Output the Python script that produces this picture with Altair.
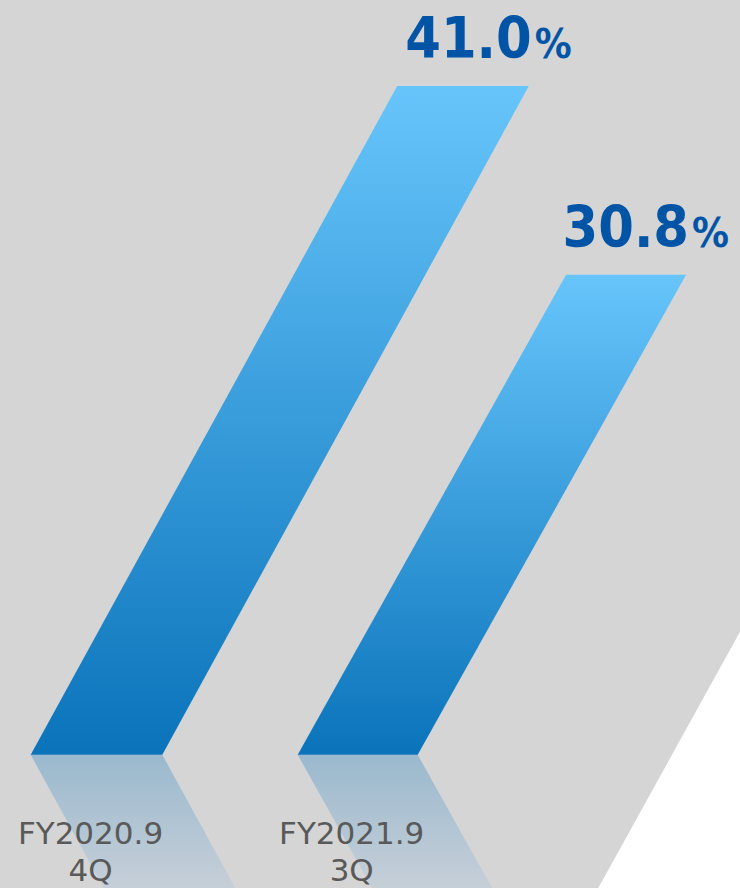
import altair as alt
import pandas as pd

# ---- data ----
categories = ["FY2020.9", "FY2021.9"]
periods = ["4Q", "3Q"]
values = [41.0, 30.8]

# ---- layout (not data) ----
W, H = 740, 888
y_lo, y_hi = -2.35, 45.65        # value-scale domain (bottom, top of the picture)
base_value = 4.85                # where the bars stand
px_per_unit = H / (y_hi - y_lo)  # vertical pixels per value unit
bar_left = [30.7, 297.7]         # x of each bar's foot (left corner)
bar_width = [131.6, 120.0]
slants = [0.548, 0.559]          # horizontal shift per vertical pixel
bg_foot = 598.3                  # x where the grey band meets the bottom
bg_slant = 0.553

BG = "#d5d5d5"
TOP_BLUE = "#67c5fb"
BOTTOM_BLUE = "#0a73ba"
VALUE_BLUE = "#0054a6"
LABEL_GREY = "#595959"


def shift(slant, dv):
    return slant * px_per_unit * dv


bar_rows, refl_rows, lab_rows, val_rows = [], [], [], []
for c, p, v, l, w, s in zip(categories, periods, values, bar_left, bar_width, slants):
    off = shift(s, v - base_value)
    bar_rows += [
        dict(cat=c, y=base_value, xl=l, xr=l + w),
        dict(cat=c, y=v, xl=l + off, xr=l + off + w),
    ]
    roff = shift(s, base_value - y_lo)
    refl_rows += [
        dict(cat=c, y=base_value, xl=l, xr=l + w),
        dict(cat=c, y=y_lo, xl=l + roff, xr=l + roff + w),
    ]
    lab_rows.append(dict(cat=c, text=f"{c}\n{p}", x=l + w / 2, y=base_value))
    val_rows.append(dict(cat=c, num=f"{v:.1f}", pct="%", x=l + off + w, y=v))

bg_rows = [
    dict(y=y_lo, xl=0, xr=bg_foot),
    dict(y=y_hi, xl=0, xr=bg_foot + shift(bg_slant, y_hi - y_lo)),
]

xs = alt.Scale(domain=[0, W], nice=False, zero=False)
ys = alt.Scale(domain=[y_lo, y_hi], nice=False, zero=False)


def X(f):
    return alt.X(f"{f}:Q", scale=xs, axis=None)


def Y(f):
    return alt.Y(f"{f}:Q", scale=ys, axis=None)


background = alt.Chart(pd.DataFrame(bg_rows)).mark_area(
    orient="horizontal", color=BG, clip=True
).encode(y=Y("y"), x=X("xl"), x2="xr")

reflections = alt.Chart(pd.DataFrame(refl_rows)).mark_area(
    orient="horizontal",
    clip=True,
    color=alt.Gradient(
        gradient="linear",
        stops=[
            alt.GradientStop(color="#9ab9ce", offset=0),
            alt.GradientStop(color="#c6cfd8", offset=1),
        ],
        x1=0, x2=0, y1=0, y2=1,
    ),
).encode(y=Y("y"), x=X("xl"), x2="xr", detail="cat:N")

bars = alt.Chart(pd.DataFrame(bar_rows)).mark_area(
    orient="horizontal",
    color=alt.Gradient(
        gradient="linear",
        stops=[
            alt.GradientStop(color=TOP_BLUE, offset=0),
            alt.GradientStop(color=BOTTOM_BLUE, offset=1),
        ],
        x1=0, x2=0, y1=0, y2=1,
    ),
).encode(y=Y("y"), x=X("xl"), x2="xr", detail="cat:N")

labels = alt.Chart(pd.DataFrame(lab_rows)).mark_text(
    font="DejaVu Sans",
    fontSize=31,
    color=LABEL_GREY,
    align="center",
    baseline="alphabetic",
    lineBreak="\n",
    lineHeight=37,
    dx=-6,
    dy=89,
).encode(x=X("x"), y=Y("y"), text="text:N")

VALUE_FONT = "'DejaVu Sans Condensed', 'DejaVu Sans', sans-serif"

nums = alt.Chart(pd.DataFrame(val_rows)).mark_text(
    font=VALUE_FONT,
    fontSize=57,
    fontWeight="bold",
    color=VALUE_BLUE,
    align="right",
    baseline="alphabetic",
    dx=3,
    dy=-28,
).encode(x=X("x"), y=Y("y"), text="num:N")

pcts = alt.Chart(pd.DataFrame(val_rows)).mark_text(
    font=VALUE_FONT,
    fontSize=41,
    fontWeight="bold",
    color=VALUE_BLUE,
    align="left",
    baseline="alphabetic",
    dx=6,
    dy=-28,
).encode(x=X("x"), y=Y("y"), text="pct:N")

chart = (
    alt.layer(background, reflections, bars, labels, nums, pcts)
    .properties(width=W, height=H, padding=0, autosize=alt.AutoSizeParams(type="none"))
    .configure_view(stroke=None)
    .configure(background="white")
)

chart.save("out.html", embed_options={"renderer": "svg", "actions": False})
